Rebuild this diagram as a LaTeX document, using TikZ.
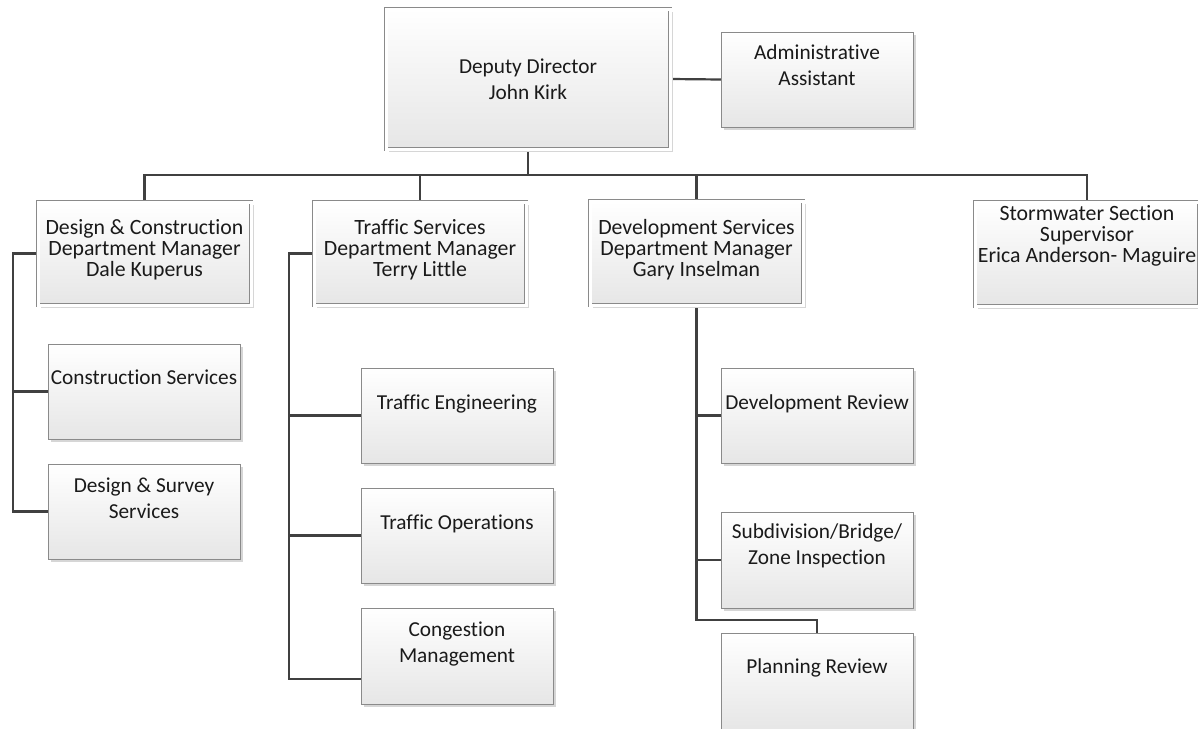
\documentclass[tikz,border=0pt]{standalone}
\usepackage{fontspec}
\setmainfont{Carlito}[Ligatures=NoCommon]
\usetikzlibrary{shadows,backgrounds}
\definecolor{linec}{HTML}{404040}
\definecolor{boxc}{HTML}{8A8A8A}
\definecolor{shadc}{HTML}{D6D6D6}
\definecolor{fillb}{HTML}{E6E6E6}
\definecolor{txtc}{HTML}{1A1A1A}
\newcommand\mystrut{\vrule width 0pt height 16pt depth 3pt\relax}
\newcommand\obox[6]{\node[#2, minimum width={#5-#3}, minimum height={#6-#4}] (#1) at ({(#3+#5)/2},{(#4+#6)/2}) {};}
\tikzset{
  leaf/.style={draw=boxc, line width=0.9pt, top color=white, bottom color=fillb,
    inner sep=0pt, outer sep=0pt,
    drop shadow={shadow xshift=3pt, shadow yshift=-3pt, fill=shadc, opacity=1}},
  mgr/.style={leaf, double=white, double distance=3pt, line width=0.8pt},
  wire/.style={draw=linec, line width=2.2pt},
  lbl/.style={align=center, text=txtc, inner sep=0pt, font=\fontsize{21.3}{26}\selectfont},
  lblm/.style={lbl, font=\fontsize{21.8}{21}\selectfont},
}
\begin{document}
\begin{tikzpicture}[x=1pt, y=-1pt]
\useasboundingbox (0,0) rectangle (1198,728);
\begin{scope}[on background layer]
  \fill[white] (0,0) rectangle (1198,728);
\end{scope}

% boxes
\obox{dep}{mgr}{386}{9}{670}{149}
\obox{admin}{leaf}{721}{32}{913}{127}
\obox{dc}{mgr}{38}{202}{251}{305}
\obox{ts}{mgr}{314}{202}{526}{305}
\obox{ds}{mgr}{590}{201}{803}{305}
\obox{sw}{mgr}{975}{202}{1199}{306}
\obox{cs}{leaf}{48}{344}{240}{439}
\obox{dss}{leaf}{48}{464}{240}{559}
\obox{te}{leaf}{361}{368}{553}{463}
\obox{to}{leaf}{361}{488}{553}{583}
\obox{cm}{leaf}{361}{608}{553}{704}
\obox{dr}{leaf}{721}{368}{913}{463}
\obox{sbz}{leaf}{721}{512}{913}{608}
\obox{pr}{leaf}{721}{633}{913}{730}

% texts
\node[lbl] (dep-t) at (528,80) {\mystrut Deputy Director\\\mystrut John Kirk};
\node[lbl] (admin-t) at (817,65.5) {\mystrut Administrative\\\mystrut Assistant};
\node[lblm] (dc-t) at (144.5,249) {\mystrut Design \& Construction\\\mystrut Department Manager\\\mystrut Dale Kuperus};
\node[lblm] (ts-t) at (420,249) {\mystrut Traffic Services\\\mystrut Department Manager\\\mystrut Terry Little};
\node[lblm] (ds-t) at (696.5,249.5) {\mystrut Development Services\\\mystrut Department Manager\\\mystrut Gary Inselman};
\node[lblm] (sw-t) at (1087,235) {\mystrut Stormwater Section\\\mystrut Supervisor\\\mystrut Erica Anderson- Maguire};
\node[lbl] (cs-t) at (144,378) {\mystrut Construction Services};
\node[lbl] (dss-t) at (144,499) {\mystrut Design \& Survey\\\mystrut Services};
\node[lbl] (te-t) at (457,403) {\mystrut Traffic Engineering};
\node[lbl] (to-t) at (457,523) {\mystrut Traffic Operations};
\node[lbl] (cm-t) at (457,643.5) {\mystrut Congestion\\\mystrut Management};
\node[lbl] (dr-t) at (817,403) {\mystrut Development Review};
\node[lbl] (sbz-t) at (817,545) {\mystrut Subdivision/Bridge/\\\mystrut Zone Inspection};
\node[lbl] (pr-t) at (817,667) {\mystrut Planning Review};

% connectors
\begin{scope}[on background layer]
  \draw[wire] (dep.east) -- (admin.west);
  \draw[wire] (dep.south) -- ++(0,26) coordinate (bus);
  \draw[wire] (bus) -| (dc.north);
  \draw[wire] (bus) -| (ts.north);
  \draw[wire] (bus) -| (ds.north);
  \draw[wire] (bus) -| (sw.north);
  \draw[wire] (dc.west) -- ++(-25,0) coordinate (dcv) |- (dss.west);
  \draw[wire] (cs.west) -- (cs.west -| dcv);
  \draw[wire] (ts.west) -- ++(-25,0) coordinate (tsv) |- ([yshift=-23pt]cm.west);
  \draw[wire] (te.west) -- (te.west -| tsv);
  \draw[wire] (to.west) -- (to.west -| tsv);
  \draw[wire] (ds.south) -- ++(0,315) -| (pr.north);
  \draw[wire] (dr.west) -- (dr.west -| ds.south);
  \draw[wire] (sbz.west) -- (sbz.west -| ds.south);
\end{scope}
\end{tikzpicture}
\end{document}
